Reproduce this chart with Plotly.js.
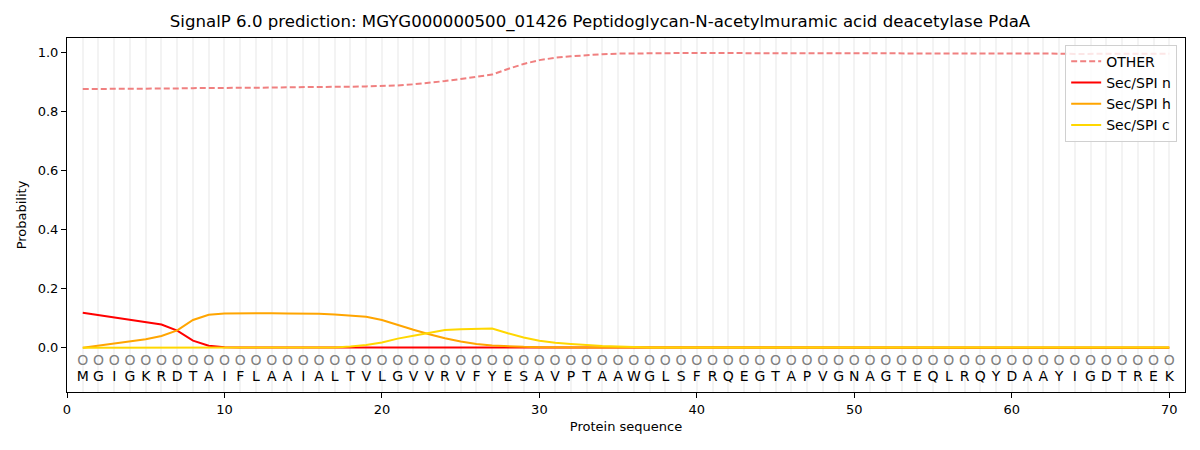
<!DOCTYPE html>
<html>
<head>
<meta charset="utf-8">
<script src="https://cdn.plot.ly/plotly-3.0.1.min.js"></script>
<style>
  body { margin: 0; background: #fff; }
  #chart { width: 1200px; height: 450px; }
</style>
</head>
<body>
<div id="chart"></div>
<script>
// sequence, one letter per position 1..70
const residues = ['M','G','I','G','K','R','D','T','A','I',
                  'F','L','A','A','I','A','L','T','V','L',
                  'G','V','V','R','V','F','Y','E','S','A',
                  'V','P','T','A','A','W','G','L','S','F',
                  'R','Q','E','G','T','A','P','V','G','N',
                  'A','G','T','E','Q','L','R','Q','Y','D',
                  'A','A','Y','I','G','D','T','R','E','K'];
const positions = residues.map((r, i) => i + 1);
const regionMarks = residues.map(() => 'O');

const other = [0.877, 0.877, 0.877, 0.878, 0.878, 0.879, 0.879, 0.880, 0.880, 0.881,
               0.881, 0.882, 0.882, 0.883, 0.883, 0.884, 0.884, 0.885, 0.886, 0.887,
               0.889, 0.893, 0.898, 0.904, 0.911, 0.918, 0.926, 0.945, 0.962, 0.975,
               0.983, 0.988, 0.992, 0.995, 0.997, 0.998, 0.998, 0.999, 0.999, 0.999,
               0.999, 0.999, 0.999, 0.999, 0.999, 0.999, 0.999, 0.999, 0.999, 0.999,
               0.999, 0.999, 0.999, 0.999, 0.999, 0.998, 0.998, 0.998, 0.998, 0.998,
               0.997, 0.997, 0.997, 0.996, 0.996, 0.997, 0.997, 0.997, 0.997, 0.997];

const secN = [0.119, 0.111, 0.103, 0.095, 0.088, 0.079, 0.058, 0.024, 0.007, 0.002,
              0.001, 0.001, 0.001, 0.001, 0.001, 0.001, 0.001, 0.001, 0.001, 0.001,
              0.000, 0.000, 0.000, 0.000, 0.000, 0.000, 0.000, 0.000, 0.000, 0.000,
              0.000, 0.000, 0.000, 0.000, 0.000, 0.000, 0.000, 0.000, 0.000, 0.000,
              0.000, 0.000, 0.000, 0.000, 0.000, 0.000, 0.000, 0.000, 0.000, 0.000,
              0.000, 0.000, 0.000, 0.000, 0.000, 0.000, 0.000, 0.000, 0.000, 0.000,
              0.000, 0.000, 0.000, 0.000, 0.000, 0.000, 0.000, 0.000, 0.000, 0.000];

const secH = [0.000, 0.007, 0.016, 0.022, 0.029, 0.040, 0.059, 0.094, 0.112, 0.116,
              0.117, 0.117, 0.117, 0.116, 0.116, 0.115, 0.113, 0.110, 0.105, 0.094,
              0.077, 0.061, 0.046, 0.032, 0.021, 0.013, 0.008, 0.005, 0.003, 0.002,
              0.001, 0.001, 0.001, 0.001, 0.001, 0.001, 0.001, 0.001, 0.001, 0.001,
              0.001, 0.001, 0.001, 0.001, 0.001, 0.001, 0.001, 0.001, 0.001, 0.001,
              0.001, 0.001, 0.001, 0.001, 0.001, 0.001, 0.001, 0.001, 0.001, 0.001,
              0.001, 0.001, 0.001, 0.001, 0.001, 0.001, 0.001, 0.001, 0.001, 0.001];

const secC = [0.000, 0.000, 0.000, 0.000, 0.000, 0.000, 0.000, 0.000, 0.000, 0.000,
              0.000, 0.000, 0.000, 0.000, 0.000, 0.000, 0.001, 0.004, 0.009, 0.018,
              0.031, 0.041, 0.051, 0.060, 0.063, 0.065, 0.065, 0.049, 0.035, 0.024,
              0.017, 0.013, 0.009, 0.006, 0.004, 0.002, 0.001, 0.001, 0.001, 0.001,
              0.001, 0.001, 0.001, 0.001, 0.001, 0.001, 0.001, 0.001, 0.001, 0.001,
              0.001, 0.001, 0.001, 0.001, 0.001, 0.001, 0.001, 0.001, 0.001, 0.001,
              0.001, 0.001, 0.001, 0.001, 0.001, 0.001, 0.001, 0.001, 0.001, 0.001];

const font = 'DejaVu Sans, sans-serif';

const data = [
    {
        x: positions, y: other, mode: 'lines', type: 'scatter', name: 'OTHER',
        line: {color: '#f08080', width: 2, dash: '6px,3px'}
    },
    {
        x: positions, y: secN, mode: 'lines', type: 'scatter', name: 'Sec/SPI n',
        line: {color: '#ff0000', width: 2}
    },
    {
        x: positions, y: secH, mode: 'lines', type: 'scatter', name: 'Sec/SPI h',
        line: {color: '#ffa500', width: 2}
    },
    {
        x: positions, y: secC, mode: 'lines', type: 'scatter', name: 'Sec/SPI c',
        line: {color: '#ffd700', width: 2}
    },
    {
        x: positions, y: positions.map(() => -0.045), mode: 'text', type: 'scatter',
        text: regionMarks, showlegend: false, hoverinfo: 'skip',
        textfont: {family: font, size: 14, color: '#808080'}
    },
    {
        x: positions, y: positions.map(() => -0.1), mode: 'text', type: 'scatter',
        text: residues, showlegend: false, hoverinfo: 'skip',
        textfont: {family: font, size: 14, color: '#000000'}
    }
];

const layout = {
    width: 1200,
    height: 450,
    margin: {l: 67, r: 15, t: 38, b: 58},
    paper_bgcolor: '#ffffff',
    plot_bgcolor: '#ffffff',
    font: {family: font, size: 13, color: '#000'},
    title: {
        text: 'SignalP 6.0 prediction: MGYG000000500_01426 Peptidoglycan-N-acetylmuramic acid deacetylase PdaA',
        font: {family: font, size: 16.6, color: '#000'},
        x: 0.5, xanchor: 'center', y: 0.952, yanchor: 'middle'
    },
    xaxis: {
        range: [0, 71],
        tickvals: [0, 10, 20, 30, 40, 50, 60, 70],
        ticks: 'outside', ticklen: 5, tickcolor: '#000',
        showline: true, linecolor: '#000', linewidth: 1, mirror: true,
        showgrid: false, zeroline: false,
        minor: {tickvals: positions, showgrid: true, gridcolor: '#f3f3f3', gridwidth: 2, ticks: ''},
        tickfont: {family: font, size: 13},
        title: {text: 'Protein sequence', font: {family: font, size: 13}, standoff: 6}
    },
    yaxis: {
        range: [-0.15, 1.05],
        tickvals: [0, 0.2, 0.4, 0.6, 0.8, 1.0],
        ticktext: ['0.0', '0.2', '0.4', '0.6', '0.8', '1.0'],
        ticks: 'outside', ticklen: 5, tickcolor: '#000',
        showline: true, linecolor: '#000', linewidth: 1, mirror: true,
        showgrid: false, zeroline: false,
        tickfont: {family: font, size: 13},
        title: {text: 'Probability', font: {family: font, size: 13}, standoff: 8}
    },
    legend: {
        x: 0.993, xanchor: 'right', y: 0.981, yanchor: 'top',
        bgcolor: 'rgba(255,255,255,0.8)', bordercolor: '#d0d0d0', borderwidth: 1,
        font: {family: font, size: 14},
        itemwidth: 30, tracegroupgap: 0
    },
    showlegend: true
};

Plotly.newPlot('chart', data, layout, {displayModeBar: false, staticPlot: true});
</script>
</body>
</html>
